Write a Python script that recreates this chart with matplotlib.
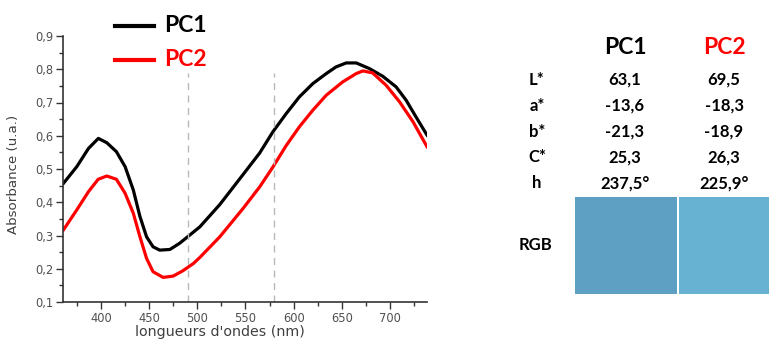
import matplotlib
matplotlib.use('Agg')
import matplotlib.pyplot as plt
from matplotlib.lines import Line2D
from matplotlib.patches import Rectangle

plt.rcParams['font.family'] = ['DejaVu Sans']

# spectra
pc1_nm = [361, 374.8, 387, 397.2, 406, 416, 425, 433.5, 440.4, 447.3, 454, 461,
          471.5, 481.8, 492, 502.6, 523.3, 547.4, 564.7, 578.5, 592.4, 606, 620,
          633.9, 644, 654.6, 665, 678.7, 692.5, 706.4, 716.8, 727, 738.5]
pc1_abs = [0.457, 0.507, 0.562, 0.592, 0.579, 0.552, 0.507, 0.437, 0.357, 0.296,
           0.266, 0.256, 0.258, 0.277, 0.301, 0.326, 0.393, 0.483, 0.548, 0.612,
           0.667, 0.717, 0.757, 0.787, 0.807, 0.819, 0.819, 0.802, 0.779, 0.747,
           0.707, 0.657, 0.602]
pc2_nm = [361, 374.8, 387, 397, 406, 416, 425, 433.5, 440.4, 447.3, 454, 464.5,
          475, 485, 496, 502.6, 523.3, 547.4, 564.7, 578.5, 592.4, 606, 620,
          633.9, 651, 665, 672, 682, 696, 710, 724, 738.5]
pc2_abs = [0.317, 0.377, 0.432, 0.469, 0.479, 0.469, 0.427, 0.367, 0.296, 0.231,
           0.191, 0.174, 0.178, 0.194, 0.216, 0.234, 0.296, 0.381, 0.446, 0.506,
           0.571, 0.627, 0.677, 0.722, 0.762, 0.787, 0.795, 0.789, 0.752, 0.702,
           0.642, 0.567]
marker_nm = [490, 580]
marker_top = 0.79

xticks = [400, 450, 500, 550, 600, 650, 700]
yticks = [0.1, 0.2, 0.3, 0.4, 0.5, 0.6, 0.7, 0.8, 0.9]
ytick_labels = ['0,1', '0,2', '0,3', '0,4', '0,5', '0,6', '0,7', '0,8', '0,9']

# colour table
series_names = ['PC1', 'PC2']
series_colors = ['black', '#ff0000']
row_labels = ['L*', 'a*', 'b*', 'C*', 'h']
pc1_values = ['63,1', '-13,6', '-21,3', '25,3', '237,5°']
pc2_values = ['69,5', '-18,3', '-18,9', '26,3', '225,9°']
swatch_colors = ['#5e9fc4', '#67b1d3']

W, H = 769, 340
fig = plt.figure(figsize=(W / 100, H / 100), dpi=100)
ax = fig.add_axes([63 / W, 1 - 302 / H, (427 - 63) / W, (302 - 36) / H])

ax.plot(pc1_nm, pc1_abs, color=series_colors[0], lw=2.3, solid_joinstyle='round')
ax.plot(pc2_nm, pc2_abs, color=series_colors[1], lw=2.3, solid_joinstyle='round')
for m in marker_nm:
    ax.plot([m, m], [0.1, marker_top], color='#b8b8b8', lw=1, ls=(0, (5, 4)))

ax.set_xlim(360.5, 738.5)
ax.set_ylim(0.1, 0.9)
ax.set_xticks(xticks)
ax.set_xticks([375 + 50 * i for i in range(8)], minor=True)
ax.set_yticks(yticks)
ax.set_yticklabels(ytick_labels)
ax.set_yticks([0.15 + 0.1 * i for i in range(8)], minor=True)
for s in ['top', 'right']:
    ax.spines[s].set_visible(False)
for s in ['left', 'bottom']:
    ax.spines[s].set_color('#333333')
    ax.spines[s].set_linewidth(1.2)
ax.tick_params(which='major', direction='out', length=5, width=1, color='#333333',
               labelsize=8.3, labelcolor='#505050', pad=2)
ax.tick_params(which='minor', direction='out', length=3, width=1, color='#333333')
ax.set_xlabel("longueurs d'ondes (nm)", fontsize=10.3, color='#404040')
ax.xaxis.set_label_coords(0.43, -0.088, transform=ax.transAxes)
ax.xaxis.label.set_va('top')
ax.set_ylabel('Absorbance (u.a.)', fontsize=9.6, color='#404040')
ax.yaxis.set_label_coords(-0.118, 0.48)

# legend drawn by hand at the top of the plot
def fx(px):
    return px / W

def fy(py):
    return 1 - py / H

tfont = ['Lato', 'DejaVu Sans']
for i, (name, col) in enumerate(zip(series_names, series_colors)):
    y = 26 + 34 * i
    fig.add_artist(Line2D([fx(115), fx(154)], [fy(y), fy(y)], color=col, lw=3,
                          transform=fig.transFigure))
    fig.text(fx(164), fy(y), name, color=col, fontsize=16.5, fontweight='bold',
             ha='left', va='center', family=tfont)

# table on the right
col_x = [625, 724]
for name, col, x in zip(series_names, series_colors, col_x):
    fig.text(fx(x), fy(48), name, color=col, fontsize=16.5, fontweight='bold',
             ha='center', va='center', family=tfont)
for i, lab in enumerate(row_labels):
    y = 80 + 25.8 * i
    fig.text(fx(537), fy(y), lab, fontsize=12, fontweight='bold',
             ha='center', va='center', family=tfont)
    fig.text(fx(col_x[0]), fy(y), pc1_values[i], fontsize=12, fontweight='bold',
             ha='center', va='center', family=tfont)
    fig.text(fx(col_x[1]), fy(y), pc2_values[i], fontsize=12, fontweight='bold',
             ha='center', va='center', family=tfont)

fig.text(fx(535), fy(245), 'RGB', fontsize=12, fontweight='bold',
         ha='center', va='center', family=tfont)
sw_x = [575, 679]
for x, c in zip(sw_x, swatch_colors):
    fig.add_artist(Rectangle((fx(x), fy(294)), fx(102), (294 - 197) / H,
                             facecolor=c, edgecolor='none',
                             transform=fig.transFigure))

fig.savefig('out.png', dpi=100)
